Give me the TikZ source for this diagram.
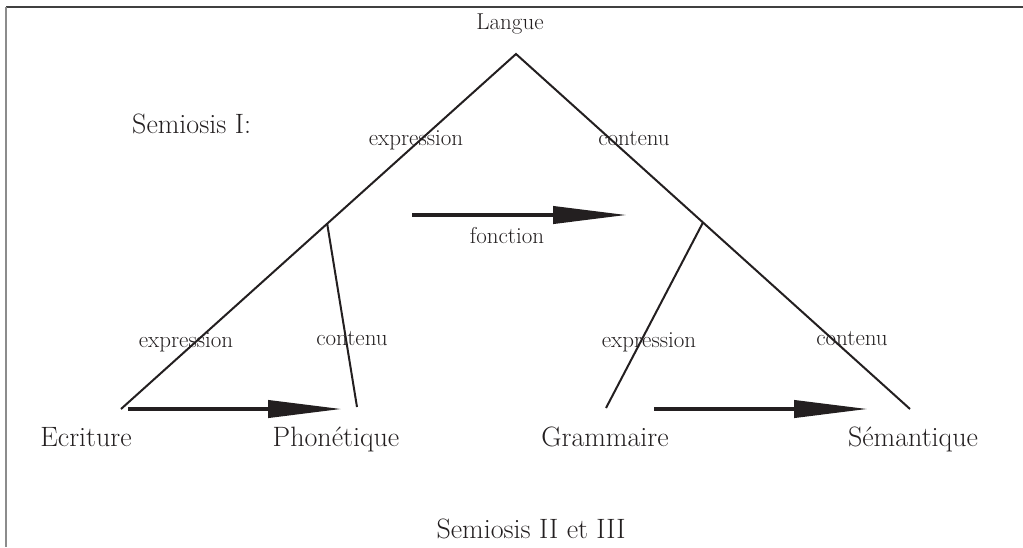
\documentclass[tikz,border=0pt]{standalone}
\usetikzlibrary{arrows.meta,calc}
\definecolor{txt}{HTML}{231F20}
\begin{document}
\begin{tikzpicture}[x=1pt,y=-1pt,
  branch/.style={line width=2pt, draw=txt},
  flow/.style={line width=4pt, draw=txt, -{Triangle[length=74pt,width=17pt]}},
  big/.style={font=\fontsize{28}{30}\selectfont, text=txt, inner sep=0pt, anchor=base},
  small/.style={font=\fontsize{23}{25}\selectfont, text=txt, inner sep=0pt, anchor=base},
]
\useasboundingbox (0,0) rectangle (1023,547);
% frame
\coordinate (fTL) at (6,7);
\coordinate (fTR) at (1023,7);
\coordinate (fBL) at (6,547);
\draw[line width=1.3pt, draw=black!75] (fTL) -- (fTR);
\draw[line width=1.5pt, draw=black!45] (fTL) -- (fBL);
% tree
\coordinate (apex) at (516,54);
\coordinate (L) at (121,409);
\coordinate (R) at (910,409);
\coordinate (lsub) at ($(apex)!0.478!(L)$);
\coordinate (rsub) at ($(apex)!0.4746!(R)$);
\coordinate (lend) at (357,407);
\coordinate (rend) at (606,408);
\draw[branch] (L) -- (apex) -- (R);
\draw[branch] (lsub) -- (lend);
\draw[branch] (rsub) -- (rend);
% arrows
\coordinate (fa) at (412,215);
\coordinate (fb) at (627,215);
\coordinate (ea) at (128,409);
\coordinate (eb) at (342,409);
\coordinate (ga) at (654,409);
\coordinate (gb) at (868,409);
\draw[flow] (fa) -- (fb);
\draw[flow] (ea) -- (eb);
\draw[flow] (ga) -- (gb);
% labels
\node[small] (langue) at (510,29) {Langue};
\node[big, anchor=base west] (sem1) at (132,133) {Semiosis I:};
\node[small] (exp1) at (416,145) {expression};
\node[small] (con1) at (634,145) {contenu};
\node[small] (fonc) at (507,243) {fonction};
\node[small] (exp2) at (186,347) {expression};
\node[small] (con2) at (352,345) {contenu};
\node[small] (exp3) at (649,347) {expression};
\node[small] (con3) at (852,345) {contenu};
\node[big] (ecr) at (86,446) {Ecriture};
\node[big] (pho) at (336,446) {Phonétique};
\node[big] (gra) at (605,446) {Grammaire};
\node[big] (sema) at (913,446) {Sémantique};
\node[big] (sem2) at (531,538) {Semiosis II et III};
\end{tikzpicture}
\end{document}
